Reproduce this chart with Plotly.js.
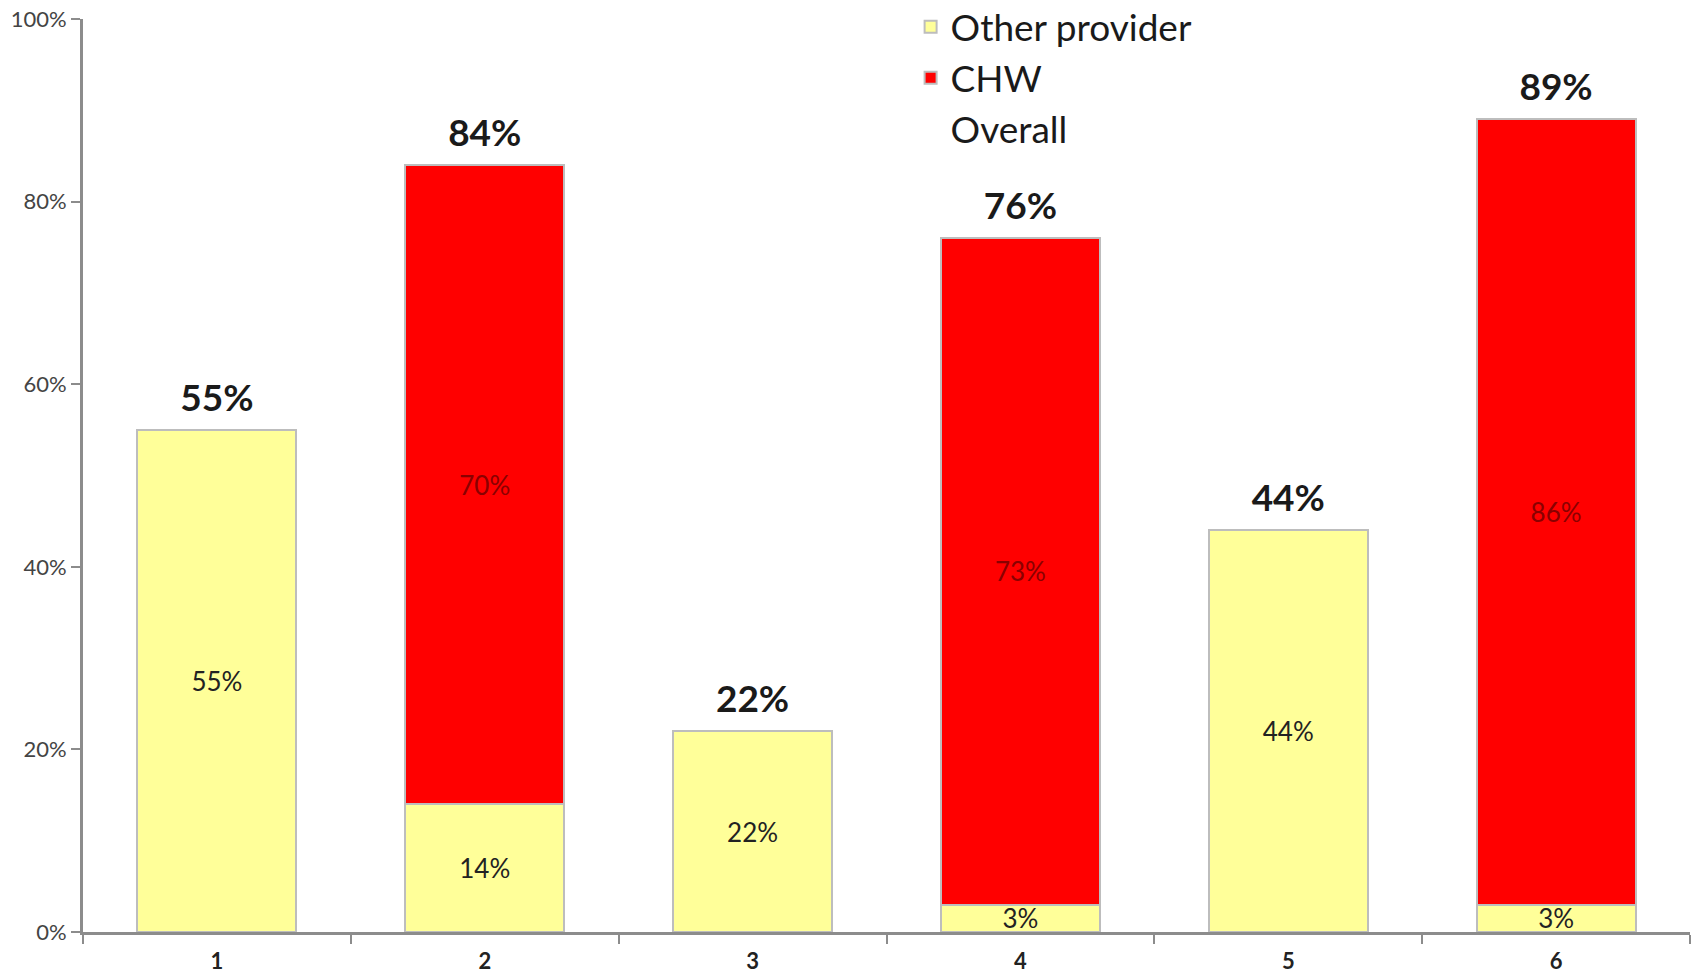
<!DOCTYPE html>
<html>
<head>
<meta charset="utf-8">
<script src="https://cdn.plot.ly/plotly-3.0.1.min.js"></script>
<style>
html,body{margin:0;padding:0;background:#fff;}
#chart{width:1696px;height:977px;}
</style>
</head>
<body>
<div id="chart"></div>
<script>
var categories = ['1', '2', '3', '4', '5', '6'];
var otherProvider = [55, 14, 22, 3, 44, 3];
var chw = [null, 70, null, 73, null, 86];
var overall = [55, 84, 22, 76, 44, 89];

function pct(arr) { return arr.map(function (v) { return v === null ? '' : v + '%'; }); }

var traces = [
  {
    type: 'bar', name: 'Other provider', x: categories, y: otherProvider,
    text: pct(otherProvider), textposition: 'inside', insidetextanchor: 'middle',
    constraintext: 'none', textangle: 0,
    textfont: {family: 'Lato, sans-serif', size: 26, color: '#222222'},
    marker: {color: '#FFFF99', line: {color: '#BDBDBD', width: 2}},
    hoverinfo: 'none'
  },
  {
    type: 'bar', name: 'CHW', x: categories, y: chw,
    text: pct(chw), textposition: 'inside', insidetextanchor: 'middle',
    constraintext: 'none', textangle: 0,
    textfont: {family: 'Lato, sans-serif', size: 26, color: '#8A0000'},
    marker: {color: '#FF0000', line: {color: '#BDBDBD', width: 2}},
    hoverinfo: 'none'
  },
  {
    type: 'scatter', mode: 'markers+text', name: 'Overall', x: categories, y: overall,
    text: pct(overall), textposition: 'top center',
    textfont: {family: 'Lato, sans-serif', size: 37, color: '#1a1a1a', weight: 'bold'},
    marker: {size: 14, color: 'rgba(0,0,0,0)'},
    hoverinfo: 'none'
  }
];

var layout = {
  width: 1696, height: 977,
  margin: {l: 83, r: 6, t: 19, b: 45, autoexpand: false},
  paper_bgcolor: '#ffffff', plot_bgcolor: '#ffffff',
  barmode: 'stack', bargap: 0.406,
  showlegend: true,
  legend: {
    x: 0.515, y: 1.025, xanchor: 'left', yanchor: 'top',
    traceorder: 'normal', bgcolor: 'rgba(0,0,0,0)',
    font: {family: 'Lato, sans-serif', size: 37, color: '#1a1a1a'},
    itemwidth: 30
  },
  xaxis: {
    type: 'category', range: [-0.5, 5.5],
    showline: true, linecolor: '#8C8C8C', linewidth: 3,
    ticks: 'outside', tickson: 'boundaries', ticklen: 9, tickwidth: 2, tickcolor: '#8C8C8C',
    ticklabelstandoff: 8,
    tickfont: {family: 'Lato, sans-serif', size: 22, color: '#222222', weight: 'bold'},
    showgrid: false, zeroline: false, fixedrange: true
  },
  yaxis: {
    range: [0, 100], dtick: 20, ticksuffix: '%',
    showline: true, linecolor: '#8C8C8C', linewidth: 3,
    ticks: 'outside', ticklen: 9, tickwidth: 2, tickcolor: '#8C8C8C',
    tickfont: {family: 'Lato, sans-serif', size: 22, color: '#444444'},
    showgrid: false, zeroline: false, fixedrange: true
  }
};

Plotly.newPlot('chart', traces, layout, {displayModeBar: false, staticPlot: true});
</script>
</body>
</html>
